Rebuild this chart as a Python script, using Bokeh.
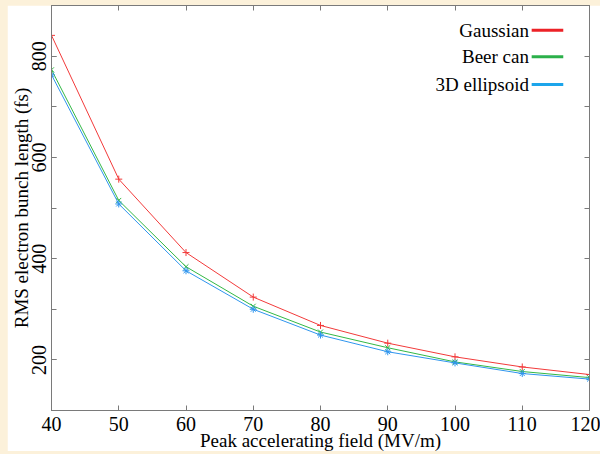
from bokeh.plotting import figure
from bokeh.models import (LinearAxis, SingleIntervalTicker, FixedTicker, Range1d, Label,
                          ColumnDataSource, InlineStyleSheet)
from bokeh.layouts import column
from bokeh.embed import file_html
from bokeh.resources import INLINE

field = [40, 50, 60, 70, 80, 90, 100, 110, 120]
gaussian = [841, 557, 412, 324, 268, 233, 206, 186, 171]
beer_can = [773, 515, 384, 306, 255, 224, 196, 177, 165]
ellipsoid = [763, 508, 376, 300, 249, 216, 194, 173, 162]

series_names = ["Gaussian", "Beer can", "3D ellipsoid"]
series_values = [gaussian, beer_can, ellipsoid]
line_colors = ["#F23A3A", "#33B845", "#2F95EE"]
legend_colors = ["#EC2227", "#2BB04A", "#1CA5EB"]
markers = ["cross", "x", "asterisk"]
y_tick_values = [100, 200, 300, 400, 500, 600, 700, 800, 900]
x_title = "Peak accelerating field (MV/m)"
y_title = "RMS electron bunch length (fs)"

FONT = "Liberation Serif"
AX = "#7a7a7a"
CREAM = "#FCF1DA"

p = figure(width=593, height=449, output_backend="svg", toolbar_location=None,
           x_range=Range1d(40, 120), y_range=Range1d(100, 900),
           background_fill_color="white", border_fill_color="white",
           min_border_left=0, min_border_right=11, min_border_top=0, min_border_bottom=44,
           outline_line_color=AX, x_axis_type=None, y_axis_type=None)
p.grid.visible = False

def style_axis(ax):
    ax.axis_line_color = AX
    ax.major_tick_line_color = AX
    ax.minor_tick_line_color = AX
    ax.major_tick_in = 5
    ax.major_tick_out = 0
    ax.minor_tick_in = 5
    ax.minor_tick_out = 0
    ax.major_label_text_font = FONT
    ax.major_label_text_color = "black"
    ax.axis_label_text_font = FONT
    ax.axis_label_text_font_style = "normal"
    ax.axis_label_text_color = "black"
    ax.major_label_text_font_size = "20px"
    ax.axis_label_text_font_size = "19px"
    ax.major_label_standoff = 0
    ax.axis_label_standoff = 0

xb = LinearAxis(ticker=SingleIntervalTicker(interval=10, num_minor_ticks=0), axis_label=x_title)
style_axis(xb)
xb.minor_tick_in = 0
xb.major_label_standoff = 6
xb.axis_label_standoff = -4
p.add_layout(xb, "below")

yl = LinearAxis(ticker=SingleIntervalTicker(interval=200, num_minor_ticks=2), axis_label=y_title)
style_axis(yl)
yl.major_label_orientation = "vertical"
yl.major_label_standoff = 6
yl.axis_label_standoff = -3
p.add_layout(yl, "left")

# mirrored tick marks on top and right (no labels)
xt = LinearAxis(ticker=FixedTicker(ticks=[], minor_ticks=field))
style_axis(xt)
p.add_layout(xt, "above")

yr = LinearAxis(ticker=FixedTicker(ticks=[], minor_ticks=y_tick_values))
style_axis(yr)
p.add_layout(yr, "right")

for name, vals, lc, mk in zip(series_names, series_values, line_colors, markers):
    src = ColumnDataSource(dict(x=field, y=vals))
    p.line("x", "y", source=src, line_color=lc, line_width=1)
    p.scatter("x", "y", source=src, marker=mk, size=7, line_color=lc, line_width=1)

# legend (text right-aligned, sample line to the right)
leg_x_text = 111.0
leg_x0, leg_x1 = 111.4, 116.1
leg_y = [851, 799, 744]
for name, lc, ly in zip(series_names, legend_colors, leg_y):
    p.add_layout(Label(x=leg_x_text, y=ly, text=name, text_align="right",
                       text_baseline="middle", text_font=FONT, text_font_size="19px",
                       text_color="black"))
    p.segment(x0=[leg_x0], y0=[ly], x1=[leg_x1], y1=[ly], line_color=lc, line_width=3)

p.margin = (5, 0, 0, 7)
p.stylesheets = [InlineStyleSheet(css=":host::after{content:'';position:absolute;left:0;right:0;"
                                      "bottom:0;height:3px;background:%s;pointer-events:none;}" % CREAM)]
layout = column(p, width=600, height=454, styles={"background-color": CREAM})

open("out.html", "w").write(file_html(layout, INLINE))
